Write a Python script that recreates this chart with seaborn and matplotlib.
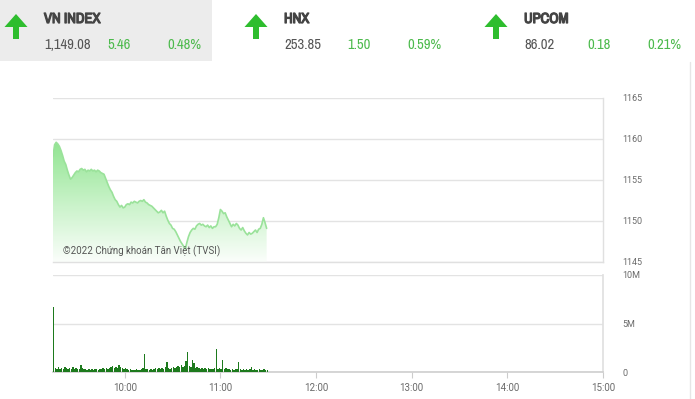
import numpy as np
import pandas as pd
import matplotlib
matplotlib.use("Agg")
import matplotlib.pyplot as plt
import seaborn as sns
from matplotlib.patches import Rectangle, FancyArrow
from matplotlib import font_manager as fm
from matplotlib import patheffects as pe
from matplotlib.colors import LinearSegmentedColormap

# ---------------- data ----------------
price = [1157.9, 1159.3, 1159.6, 1159.4, 1159.1, 1158.6, 1158.0, 1157.3, 1156.9, 1156.2,
         1155.6, 1155.1, 1155.3, 1155.6, 1155.9, 1156.1, 1156.0, 1156.3, 1156.4, 1156.2,
         1156.3, 1156.0, 1156.2, 1156.1, 1156.3, 1156.1, 1156.2, 1156.0, 1156.2, 1156.1,
         1155.9, 1155.8, 1155.7, 1155.2, 1154.7, 1154.2, 1153.8, 1153.5, 1153.0, 1152.6,
         1152.4, 1152.0, 1151.7, 1151.9, 1151.6, 1151.7, 1152.0, 1152.1, 1152.0, 1152.3,
         1152.2, 1152.4, 1152.3, 1152.2, 1152.4, 1152.5, 1152.4, 1152.6, 1152.3, 1152.2,
         1152.0, 1151.9, 1151.8, 1151.6, 1151.4, 1151.2, 1151.0, 1151.1, 1151.3, 1151.0,
         1151.2, 1150.6, 1150.1, 1149.7, 1149.5, 1149.1, 1149.0, 1148.7, 1148.3, 1147.9,
         1147.5, 1147.2, 1146.9, 1146.6, 1147.4, 1148.1, 1148.6, 1148.9, 1149.1, 1149.0,
         1149.4, 1149.6, 1149.7, 1149.5, 1149.6, 1149.4, 1149.3, 1149.5, 1149.2, 1149.4,
         1149.1, 1149.3, 1149.3, 1149.6, 1150.4, 1151.4, 1151.2, 1150.9, 1151.0, 1150.5,
         1150.1, 1149.7, 1149.3, 1149.6, 1149.4, 1149.7, 1149.5, 1149.1, 1148.9, 1149.2,
         1148.8, 1148.5, 1148.3, 1148.6, 1148.4, 1148.5, 1148.7, 1148.9, 1148.6, 1149.0,
         1149.1, 1149.6, 1150.4, 1149.8, 1149.1]

volume_m = [6.7, 0.4, 0.3, 0.5, 0.3, 0.4, 0.3, 0.5, 0.4, 0.3,
            0.4, 0.3, 0.5, 0.3, 0.4, 0.3, 0.3, 0.7, 0.4, 0.3,
            0.3, 0.2, 0.3, 0.2, 0.3, 0.2, 0.3, 0.3, 0.2, 0.3,
            0.3, 0.4, 0.3, 0.4, 0.3, 0.4, 0.5, 0.6, 0.4, 0.5,
            0.4, 0.7, 0.5, 0.4, 0.3, 0.4, 0.3, 0.2, 0.3, 0.2,
            0.2, 0.2, 0.3, 0.2, 0.2, 0.3, 0.4, 1.9, 0.3, 0.3,
            0.2, 0.3, 0.2, 0.3, 0.4, 0.3, 0.4, 0.3, 0.4, 0.3,
            0.5, 1.0, 0.4, 0.3, 0.4, 0.5, 0.4, 0.5, 0.6, 0.5,
            0.7, 0.5, 0.6, 1.1, 2.1, 0.6, 0.5, 1.2, 0.9, 0.4,
            0.5, 0.4, 0.3, 0.4, 0.3, 0.4, 0.3, 0.4, 0.3, 0.3,
            0.3, 0.4, 2.4, 0.3, 0.4, 0.3, 1.2, 0.3, 0.4, 0.3,
            0.3, 0.2, 0.3, 0.2, 0.3, 0.3, 1.0, 0.3, 0.2, 0.3,
            0.2, 0.3, 0.2, 0.3, 0.5, 0.2, 0.3, 0.2, 0.2, 0.3,
            0.2, 0.2, 0.3, 0.2, 0.2]

hour_labels = ["10:00", "11:00", "12:00", "13:00", "14:00", "15:00"]
price_ticks = [1145, 1150, 1155, 1160, 1165]
vol_ticks = [0, 5, 10]
vol_tick_labels = ["0", "5M", "10M"]

indices = ["VN INDEX", "HNX", "UPCOM"]
index_values = ["1,149.08", "253.85", "86.02"]
index_changes = ["5.46", "1.50", "0.18"]
index_pcts = ["0.48%", "0.59%", "0.21%"]

minutes = np.arange(len(price))  # minutes since 9:15
df = pd.DataFrame({"minute": minutes, "price": price, "volume": volume_m})
hour_pos = [45, 105, 165, 225, 285, 345]

# ---------------- pick a narrow font if one exists ----------------
narrow = [f for f in fm.fontManager.ttflist if ("Narrow" in f.name or "Condensed" in f.name)]
narrow_family = narrow[0].name if narrow else "Roboto"
bold_available = any(f.name == narrow_family and
                     (f.weight in ("bold", "heavy", "black") or
                      (isinstance(f.weight, int) and f.weight >= 600))
                     for f in narrow)
header_size = 10.5 if narrow else 8.5

# ---------------- figure ----------------
sns.set_theme(style="white")
plt.rcParams["font.family"] = ["Roboto", "DejaVu Sans"]
W, H = 695, 399
fig = plt.figure(figsize=(W / 100, H / 100), dpi=100)
fig.patch.set_facecolor("white")

def fx(px):
    return px / W

def fy(py):
    return 1 - py / H

grid_c = "#e3e3e3"
tick_c = "#6a6a6a"

# price axes
axp = fig.add_axes([fx(53), fy(262), fx(603) - fx(53), fy(98) - fy(262)])
axp.set_xlim(0, 345)
axp.set_ylim(1145, 1165)

poly = axp.fill_between(df["minute"], df["price"], 1145, color="none", lw=0)
grad = np.linspace(0, 1, 256).reshape(-1, 1)
cmap = LinearSegmentedColormap.from_list("g", ["#fbfefb", "#c6f2c6", "#8fe48f"])
im = axp.imshow(grad, extent=[0, 345, 1145, 1160.0], origin="lower",
                aspect="auto", cmap=cmap, vmin=0, vmax=1, zorder=1)
im.set_clip_path(poly.get_paths()[0], transform=axp.transData)
sns.lineplot(data=df, x="minute", y="price", ax=axp, color="#9ae29a", lw=1.2, zorder=3)

axp.set_yticks(price_ticks)
axp.set_xticks([])
axp.yaxis.tick_right()
axp.tick_params(axis="y", length=0, labelsize=6.5, labelcolor=tick_c, pad=14)
axp.grid(axis="y", color=grid_c, lw=1)
axp.set_xlabel("")
axp.set_ylabel("")
for s in ["left", "top"]:
    axp.spines[s].set_visible(False)
for s in ["right", "bottom"]:
    axp.spines[s].set_color("#e0e0e0")
    axp.spines[s].set_linewidth(1)
axp.text(6, 1145.9, "©2022 Chứng khoán Tân Việt (TVSI)", fontsize=7, color="#555555", zorder=5)

# volume axes
axv = fig.add_axes([fx(53), fy(372), fx(603) - fx(53), fy(275) - fy(372)])
axv.set_xlim(0, 345)
axv.set_ylim(0, 10)
axv.bar(df["minute"], df["volume"], width=0.9, color="#1d7a1d", lw=0, zorder=3, align="edge")
axv.set_yticks(vol_ticks)
axv.set_yticklabels(vol_tick_labels)
axv.yaxis.tick_right()
axv.tick_params(axis="y", length=0, labelsize=6.5, labelcolor=tick_c, pad=14)
axv.set_xticks(hour_pos)
axv.set_xticklabels(hour_labels)
axv.tick_params(axis="x", length=4, width=0.8, color="#cccccc", labelsize=7,
                labelcolor=tick_c, pad=4, bottom=True)
axv.grid(axis="y", color=grid_c, lw=1)
axv.spines["left"].set_visible(False)
axv.spines["top"].set_visible(False)
axv.spines["bottom"].set_color("#d0d0d0")
axv.spines["right"].set_color("#e0e0e0")

# overlay for header
ov = fig.add_axes([0, 0, 1, 1], zorder=-1)
ov.set_xlim(0, W)
ov.set_ylim(H, 0)
ov.axis("off")
ov.add_patch(Rectangle((0, 0), 212, 61, color="#ececec", lw=0))
ov.plot([690, 690], [62, H], color="#e6e6e6", lw=1)

arrow_c = "#2ebd2e"
title_c = "#444444"
val_c = "#555555"
green_c = "#4cba4c"
hf = dict(family=[narrow_family, "DejaVu Sans"], va="center")
title_fx = [] if bold_available else [pe.withStroke(linewidth=0.9, foreground=title_c)]
for i in range(3):
    x0 = 240 * i
    ov.add_patch(FancyArrow(x0 + 16, 39, 0, -25, width=6, head_width=23,
                            head_length=13, length_includes_head=True,
                            color=arrow_c, lw=0))
    ov.text(x0 + 44, 19, indices[i], fontsize=header_size, fontweight="bold",
            color=title_c, ha="left", path_effects=title_fx, **hf)
    ov.text(x0 + 44, 45, index_values[i], fontsize=header_size, color=val_c,
            ha="left", **hf)
    ov.text(x0 + 107, 45, index_changes[i], fontsize=header_size, color=green_c,
            ha="left", **hf)
    ov.text(x0 + 201, 45, index_pcts[i], fontsize=header_size, color=green_c,
            ha="right", **hf)

fig.savefig("out.png", dpi=100, facecolor="white")
